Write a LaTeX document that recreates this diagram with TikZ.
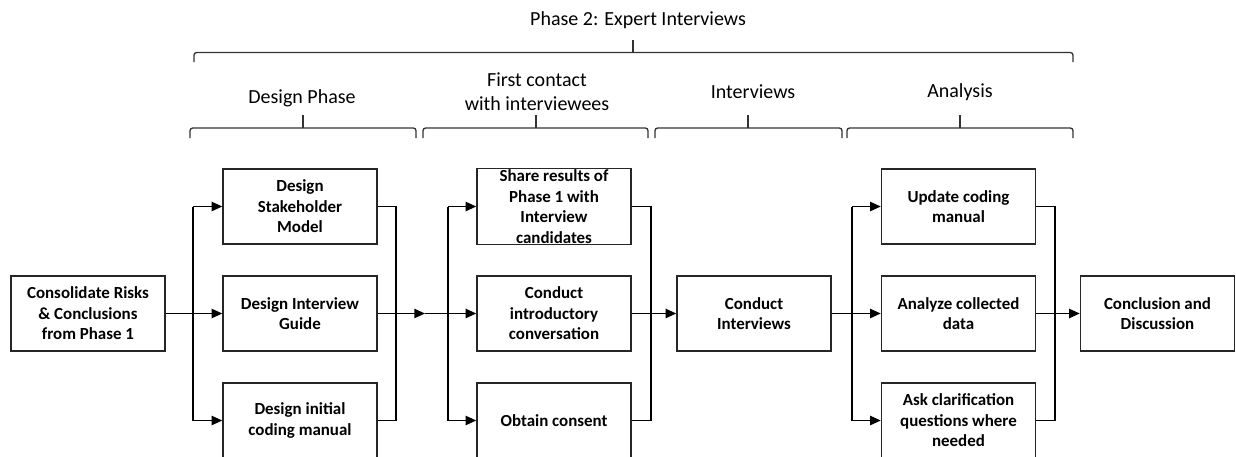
\documentclass[tikz,border=0pt]{standalone}
\usepackage{fontspec}
\setmainfont{Carlito}
\usetikzlibrary{arrows.meta}
\begin{document}
\begin{tikzpicture}[x=0.75pt,y=-0.75pt,
  stage/.style={draw=black!85, line width=1.1pt, fill=white,
    minimum width=115.5pt, minimum height=56.25pt, inner sep=1pt,
    align=center, font=\fontsize{12.7}{15.4}\selectfont\bfseries},
  flow/.style={line width=1.1pt},
  arr/.style={flow, -{Triangle[length=8pt,width=7pt]}},
  brace/.style={line width=1pt, draw=black!80, rounded corners=2pt},
  phase/.style={font=\fontsize{15}{18}\selectfont, align=center}]
\useasboundingbox (0,0) rectangle (1236,457);

% phase labels and braces
\node[phase] (p2)  at (638,20)  {Phase 2: Expert Interviews};
\node[phase] (dp)  at (302,98)  {Design Phase};
\node[phase] (fc)  at (537,92)  {First contact\\with interviewees};
\node[phase] (iv)  at (753,92)  {Interviews};
\node[phase] (an)  at (960,92)  {Analysis};

\draw[brace] (194,62) -- (194,52.5) -- (1073,52.5) -- (1073,62);
\draw[brace] (633,52.5) -- (633,40);
\draw[brace] (190,138) -- (190,128) -- (416,128) -- (416,138);
\draw[brace] (303,128) -- (303,115);
\draw[brace] (423,138) -- (423,128) -- (648,128) -- (648,138);
\draw[brace] (536,128) -- (536,115);
\draw[brace] (655,138) -- (655,128) -- (842,128) -- (842,138);
\draw[brace] (748,128) -- (748,115);
\draw[brace] (847,138) -- (847,128) -- (1073,128) -- (1073,138);
\draw[brace] (960,128) -- (960,115);

% process steps
\node[stage] (cons) at (88,313.5)   {Consolidate Risks\\\& Conclusions\\from Phase 1};
\node[stage] (ds)   at (300,206.5)  {Design\\Stakeholder\\Model};
\node[stage] (dg)   at (300,313.5)  {Design Interview\\Guide};
\node[stage] (dc)   at (300,420.5)  {Design initial\\coding manual};
\node[stage] (sr)   at (554,206.5)  {Share results of\\Phase 1 with\\Interview\\candidates};
\node[stage] (ic)   at (554,313.5)  {Conduct\\introductory\\conversation};
\node[stage] (oc)   at (554,420.5)  {Obtain consent};
\node[stage] (ci)   at (754,313.5)  {Conduct\\Interviews};
\node[stage] (uc)   at (958.5,206.5){Update coding\\manual};
\node[stage] (ad)   at (958.5,313.5){Analyze collected\\data};
\node[stage] (aq)   at (958.5,420.5){Ask clarification\\questions where\\needed};
\node[stage] (cd)   at (1157.5,313.5){Conclusion and\\Discussion};

% junction points
\coordinate (s1) at (193,313.5);
\coordinate (m1) at (396,313.5);
\coordinate (a1) at (425,313.5);
\coordinate (s2) at (448,313.5);
\coordinate (m2) at (651,313.5);
\coordinate (s3) at (852,313.5);
\coordinate (m3) at (1055,313.5);

% stage 1: design
\draw[arr] (cons) -- (dg);
\draw[flow] (s1 |- ds) -- (s1 |- dc);
\draw[arr] (s1 |- ds) -- (ds);
\draw[arr] (s1 |- dc) -- (dc);
\draw[flow] (ds) -- (m1 |- ds) -- (m1 |- dc) -- (dc);
\draw[arr] (dg) -- (a1);
\draw[flow] (a1) -- (s2);

% stage 2: first contact
\draw[flow] (s2 |- sr) -- (s2 |- oc);
\draw[arr] (s2 |- sr) -- (sr);
\draw[arr] (s2) -- (ic);
\draw[arr] (s2 |- oc) -- (oc);
\draw[flow] (sr) -- (m2 |- sr) -- (m2 |- oc) -- (oc);
\draw[flow] (ic) -- (m2);
\draw[arr] (m2) -- (ci);

% stage 3: analysis
\draw[flow] (ci) -- (s3);
\draw[flow] (s3 |- uc) -- (s3 |- aq);
\draw[arr] (s3 |- uc) -- (uc);
\draw[arr] (s3) -- (ad);
\draw[arr] (s3 |- aq) -- (aq);
\draw[flow] (uc) -- (m3 |- uc) -- (m3 |- aq) -- (aq);
\draw[flow] (ad) -- (m3);
\draw[arr] (m3) -- (cd);
\end{tikzpicture}
\end{document}
